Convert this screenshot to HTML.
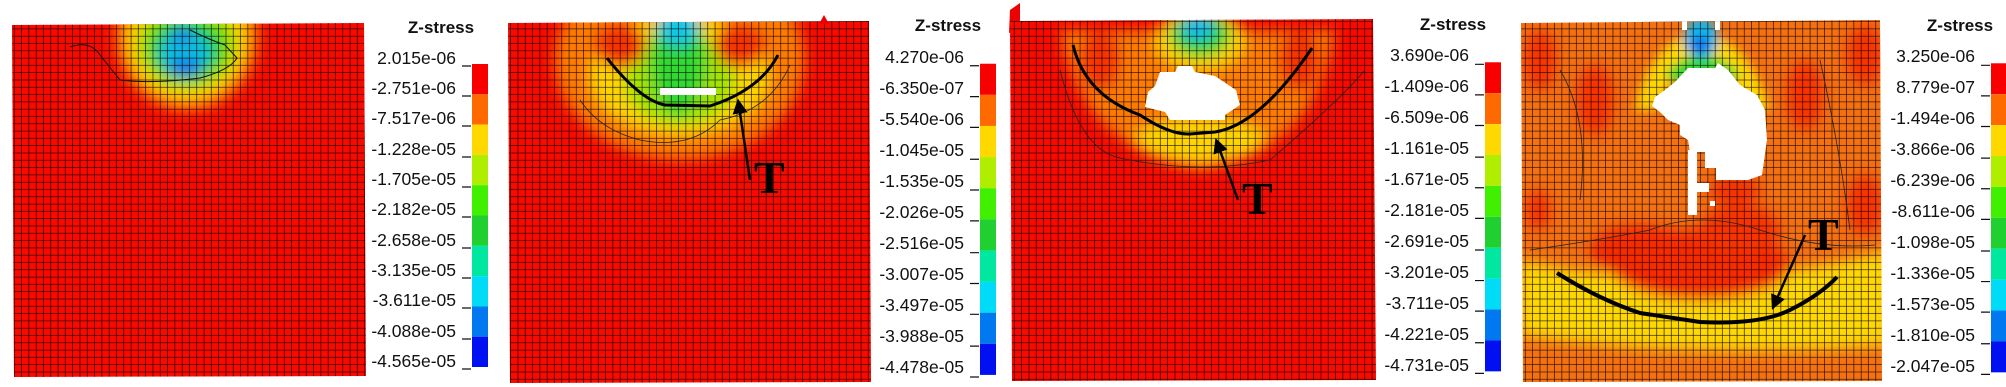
<!DOCTYPE html>
<html><head><meta charset="utf-8"><style>
html,body{margin:0;padding:0;background:#fff;}
svg{display:block;}
.lb{font-family:"Liberation Sans",Arial,sans-serif;font-size:17.5px;fill:#111;text-anchor:end;}
.tt{font-family:"Liberation Sans",Arial,sans-serif;font-size:17px;font-weight:bold;fill:#111;text-anchor:middle;}
.T{font-family:"Liberation Serif","Times New Roman",serif;font-size:46px;font-weight:bold;fill:#000;}
</style></head><body>
<svg width="2006" height="387" viewBox="0 0 2006 387" xmlns="http://www.w3.org/2000/svg">
<defs>
<pattern id="g" width="7.3" height="7.3" patternUnits="userSpaceOnUse">
<path d="M7.3 0V7.3H0" fill="none" stroke="#000" stroke-width="1.3" opacity="0.9"/>
</pattern>
<filter id="b" x="-30%" y="-30%" width="160%" height="160%"><feGaussianBlur stdDeviation="7"/></filter>
<filter id="b2" x="-30%" y="-30%" width="160%" height="160%"><feGaussianBlur stdDeviation="5"/></filter>
<clipPath id="c1"><polygon points="12,25 364,23 366,376 14,377"/></clipPath>
<clipPath id="c2"><polygon points="508,23 869,21 871,382 510,383"/></clipPath>
<clipPath id="c3"><polygon points="1010,21 1373,19 1376,380 1012,381"/></clipPath>
<clipPath id="c4"><polygon points="1521,23 1880,20 1882,381 1523,382"/></clipPath>
<marker id="ah" markerWidth="6" markerHeight="6" refX="3" refY="3" orient="auto"><path d="M0,0L6,3L0,6z" fill="#000"/></marker>
</defs>

<!-- Panel 1 -->
<g clip-path="url(#c1)">
<rect x="0" y="0" width="380" height="387" fill="#f80a00"/>
<g filter="url(#b)">
<ellipse cx="187" cy="35" rx="72" ry="76" fill="#ff7a00"/>
<ellipse cx="187" cy="40" rx="60" ry="60" fill="#ffd400"/>
<ellipse cx="187" cy="45" rx="48" ry="44" fill="#8ee000"/>
<ellipse cx="187" cy="48" rx="36" ry="30" fill="#20d820"/>
<ellipse cx="185" cy="52" rx="26" ry="22" fill="#10c0e0"/>
<ellipse cx="185" cy="68" rx="18" ry="8" fill="#1060f0"/>
<ellipse cx="182" cy="35" rx="12" ry="8" fill="#1880f0"/>
</g>
<rect x="0" y="0" width="380" height="387" fill="url(#g)"/>
<path d="M70,47 Q90,40 100,55 L120,80 Q150,84 200,78 Q230,70 237,58 L225,45 Q210,40 190,30" fill="none" stroke="#111" stroke-width="1"/>
</g>
<text class="tt" x="441" y="33">Z-stress</text>
<g class="lb">
<text x="456" y="64">2.015e-06</text><text x="456" y="94">-2.751e-06</text><text x="456" y="124">-7.517e-06</text><text x="456" y="155">-1.228e-05</text><text x="456" y="185">-1.705e-05</text><text x="456" y="215">-2.182e-05</text><text x="456" y="246">-2.658e-05</text><text x="456" y="276">-3.135e-05</text><text x="456" y="306">-3.611e-05</text><text x="456" y="337">-4.088e-05</text><text x="456" y="367">-4.565e-05</text>
</g>

<!-- Panel 2 -->
<g clip-path="url(#c2)">
<rect x="500" y="0" width="380" height="387" fill="#f80a00"/>
<g filter="url(#b)">
<ellipse cx="680" cy="60" rx="125" ry="100" fill="#ff7a00"/>
<ellipse cx="680" cy="75" rx="90" ry="60" fill="#ffd400"/>
<ellipse cx="680" cy="80" rx="55" ry="45" fill="#a0e400"/>
<ellipse cx="678" cy="60" rx="28" ry="55" fill="#30d830"/>
<ellipse cx="678" cy="28" rx="20" ry="18" fill="#10c8e8"/>
<ellipse cx="620" cy="45" rx="25" ry="22" fill="#f83000"/>
<ellipse cx="740" cy="45" rx="25" ry="22" fill="#f83000"/>
</g>
<rect x="500" y="0" width="380" height="387" fill="url(#g)"/>
<rect x="660" y="88" width="56" height="7" fill="#fff"/>
<path d="M607,58 Q640,100 665,105 L710,106 Q760,90 778,55" fill="none" stroke="#000" stroke-width="3"/>
<path d="M580,100 Q600,130 640,140 Q690,150 720,120 Q770,110 790,65" fill="none" stroke="#222" stroke-width="0.8"/>
</g>
<path d="M824,15 L829,24 L819,24z" fill="#e00"/>
<line x1="750" y1="180" x2="739" y2="106" stroke="#000" stroke-width="2.5" marker-end="url(#ah)"/>
<text class="T" x="754" y="193">T</text>
<text class="tt" x="948" y="31">Z-stress</text>
<g class="lb">
<text x="964" y="63">4.270e-06</text><text x="964" y="94">-6.350e-07</text><text x="964" y="125">-5.540e-06</text><text x="964" y="156">-1.045e-05</text><text x="964" y="187">-1.535e-05</text><text x="964" y="218">-2.026e-05</text><text x="964" y="249">-2.516e-05</text><text x="964" y="280">-3.007e-05</text><text x="964" y="311">-3.497e-05</text><text x="964" y="342">-3.988e-05</text><text x="964" y="373">-4.478e-05</text>
</g>

<!-- Panel 3 -->
<path d="M1009,33 L1010,10 L1020,3 L1020,30z" fill="#e00"/>
<g clip-path="url(#c3)">
<rect x="1000" y="0" width="380" height="387" fill="#f80a00"/>
<g filter="url(#b)">
<path d="M1060,30 Q1080,150 1200,170 Q1320,150 1335,30z" fill="#ff7a00"/>
<ellipse cx="1200" cy="140" rx="65" ry="22" fill="#ffd400"/>
<ellipse cx="1200" cy="40" rx="45" ry="30" fill="#ffd400"/>
<ellipse cx="1200" cy="35" rx="30" ry="22" fill="#30d830"/>
<ellipse cx="1198" cy="28" rx="16" ry="12" fill="#10b8f0"/>
<ellipse cx="1100" cy="60" rx="20" ry="30" fill="#f83000"/>
<ellipse cx="1300" cy="60" rx="20" ry="30" fill="#f83000"/>
</g>
<rect x="1000" y="0" width="380" height="387" fill="url(#g)"/>
<polygon points="1160,72 1175,72 1178,66 1192,66 1195,72 1215,76 1236,90 1240,105 1225,115 1225,120 1170,120 1165,112 1145,107 1148,92 1155,86" fill="#fff"/>
<path d="M1073,45 Q1085,95 1140,115 Q1170,135 1190,134 L1215,132 Q1260,125 1312,48" fill="none" stroke="#000" stroke-width="3"/>
<path d="M1060,70 Q1080,150 1120,158 Q1200,175 1270,160 Q1340,100 1365,70" fill="none" stroke="#222" stroke-width="0.8"/>
</g>
<line x1="1238" y1="200" x2="1218" y2="145" stroke="#000" stroke-width="2.5" marker-end="url(#ah)"/>
<text class="T" x="1242" y="214">T</text>
<text class="tt" x="1453" y="30">Z-stress</text>
<g class="lb">
<text x="1469" y="61">3.690e-06</text><text x="1469" y="92">-1.409e-06</text><text x="1469" y="123">-6.509e-06</text><text x="1469" y="154">-1.161e-05</text><text x="1469" y="185">-1.671e-05</text><text x="1469" y="216">-2.181e-05</text><text x="1469" y="247">-2.691e-05</text><text x="1469" y="278">-3.201e-05</text><text x="1469" y="309">-3.711e-05</text><text x="1469" y="340">-4.221e-05</text><text x="1469" y="371">-4.731e-05</text>
</g>

<!-- Panel 4 -->
<g clip-path="url(#c4)">
<rect x="1500" y="0" width="400" height="387" fill="#f57010"/>
<g filter="url(#b)">
<path d="M1520,260 Q1700,300 1890,250 L1890,345 Q1700,360 1520,335z" fill="#ffd800"/>
<ellipse cx="1700" cy="265" rx="90" ry="35" fill="#f82a00"/>
<ellipse cx="1640" cy="250" rx="50" ry="25" fill="#f82a00"/>
<ellipse cx="1740" cy="230" rx="40" ry="25" fill="#f83000"/>
<ellipse cx="1595" cy="100" rx="18" ry="35" fill="#f83000"/>
<ellipse cx="1540" cy="60" rx="16" ry="30" fill="#f83000"/>
<ellipse cx="1805" cy="95" rx="18" ry="35" fill="#f83000"/>
<ellipse cx="1865" cy="55" rx="18" ry="30" fill="#f83000"/>
<ellipse cx="1865" cy="205" rx="18" ry="30" fill="#f83000"/>
<ellipse cx="1538" cy="210" rx="12" ry="20" fill="#f83000"/>
<ellipse cx="1735" cy="190" rx="25" ry="15" fill="#f83000"/>
</g>
<g filter="url(#b2)">
<path d="M1635,110 Q1650,40 1700,30 Q1750,40 1770,110 L1750,110 L1720,60 L1685,60 L1655,110z" fill="#ffd800"/>
<path d="M1665,75 Q1700,35 1740,75 L1725,85 L1680,85z" fill="#30d830"/>
<ellipse cx="1701" cy="38" rx="17" ry="20" fill="#10b8f0"/>
<ellipse cx="1700" cy="45" rx="9" ry="9" fill="#1070f0"/>
</g>
<rect x="1500" y="0" width="400" height="387" fill="url(#g)"/>
<rect x="1682" y="20" width="5" height="10" fill="#fff"/>
<rect x="1715" y="20" width="5" height="10" fill="#fff"/>
<polygon points="1688,68 1715,68 1718,63 1728,70 1740,85 1757,95 1765,110 1767,140 1762,175 1748,180 1716,180 1716,168 1705,168 1705,152 1690,152 1688,140 1680,135 1680,125 1668,120 1660,112 1652,106 1655,97 1665,90 1675,82" fill="#fff"/>
<rect x="1688" y="150" width="9" height="65" fill="#fff"/>
<rect x="1697" y="183" width="12" height="9" fill="#fff"/>
<rect x="1710" y="201" width="5" height="5" fill="#fff"/>
<path d="M1557,273 Q1600,300 1640,313 L1700,322 Q1760,325 1790,310 Q1820,295 1837,277" fill="none" stroke="#000" stroke-width="4"/>
<path d="M1530,250 Q1600,240 1650,230 Q1700,210 1760,230 Q1820,250 1875,245" fill="none" stroke="#222" stroke-width="0.8"/>
<path d="M1560,70 Q1590,120 1580,200 M1820,60 Q1840,150 1850,230" fill="none" stroke="#222" stroke-width="0.8"/>
</g>
<line x1="1805" y1="235" x2="1775" y2="303" stroke="#000" stroke-width="2.5" marker-end="url(#ah)"/>
<text class="T" x="1808" y="250">T</text>
<text class="tt" x="1960" y="31">Z-stress</text>
<g class="lb">
<text x="1975" y="62">3.250e-06</text><text x="1975" y="93">8.779e-07</text><text x="1975" y="124">-1.494e-06</text><text x="1975" y="155">-3.866e-06</text><text x="1975" y="186">-6.239e-06</text><text x="1975" y="217">-8.611e-06</text><text x="1975" y="248">-1.098e-05</text><text x="1975" y="279">-1.336e-05</text><text x="1975" y="310">-1.573e-05</text><text x="1975" y="341">-1.810e-05</text><text x="1975" y="372">-2.047e-05</text>
</g>

<!-- colorbars -->
<g id="cb1">
<rect x="472" y="64" width="16" height="30.3" fill="#f80000"/><rect x="472" y="94.3" width="16" height="30.3" fill="#ff6a00"/><rect x="472" y="124.6" width="16" height="30.3" fill="#ffd800"/><rect x="472" y="154.9" width="16" height="30.3" fill="#b0ee00"/><rect x="472" y="185.2" width="16" height="30.3" fill="#40f000"/><rect x="472" y="215.5" width="16" height="30.3" fill="#20d030"/><rect x="472" y="245.8" width="16" height="30.3" fill="#00e8a0"/><rect x="472" y="276.1" width="16" height="30.3" fill="#00dcf8"/><rect x="472" y="306.4" width="16" height="30.3" fill="#0078f0"/><rect x="472" y="336.7" width="16" height="30.3" fill="#0010f0"/>
<path d="M462,66h9M462,96h9M462,126h9M462,157h9M462,187h9M462,217h9M462,248h9M462,278h9M462,308h9M462,339h9M462,369h9" stroke="#111" stroke-width="1.2"/>
</g>
<use href="#cb1" transform="translate(508,-2) scale(1,1.027)"/>
<use href="#cb1" transform="translate(1013,-3) scale(1,1.02)"/>
<use href="#cb1" transform="translate(1519,-2) scale(1,1.02)"/>
</svg>
</body></html>
